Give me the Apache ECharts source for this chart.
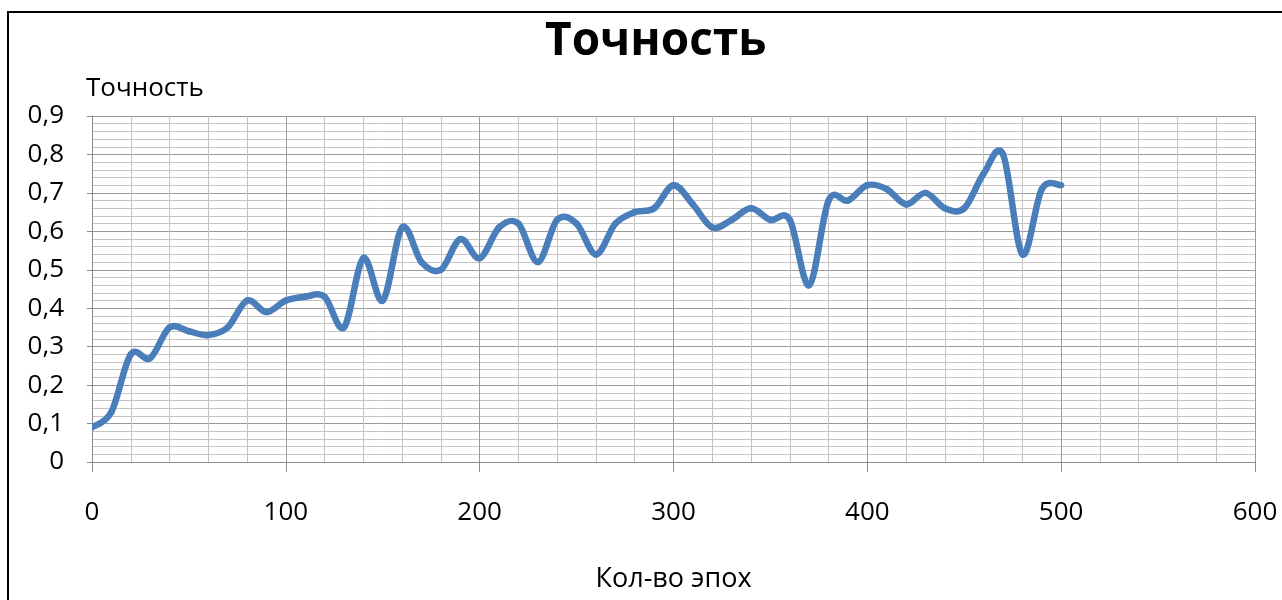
<!DOCTYPE html>
<html>
<head>
<meta charset="utf-8">
<script src="https://cdn.jsdelivr.net/npm/echarts@6/dist/echarts.min.js"></script>
<style>
  html, body { margin: 0; padding: 0; background: #fff; }
  #chart { width: 1282px; height: 600px; }
</style>
</head>
<body>
<div id="chart"></div>
<script>
// Accuracy per training epoch
const epochs = [0, 10, 20, 30, 40, 50, 60, 70, 80, 90,
                100, 110, 120, 130, 140, 150, 160, 170, 180, 190,
                200, 210, 220, 230, 240, 250, 260, 270, 280, 290,
                300, 310, 320, 330, 340, 350, 360, 370, 380, 390,
                400, 410, 420, 430, 440, 450, 460, 470, 480, 490, 500];
const accuracy = [0.09, 0.13, 0.28, 0.27, 0.35, 0.34, 0.33, 0.35, 0.42, 0.39,
                  0.42, 0.43, 0.43, 0.35, 0.53, 0.42, 0.61, 0.52, 0.50, 0.58,
                  0.53, 0.61, 0.62, 0.52, 0.63, 0.62, 0.54, 0.62, 0.65, 0.66,
                  0.72, 0.67, 0.61, 0.63, 0.66, 0.63, 0.63, 0.46, 0.68, 0.68,
                  0.72, 0.71, 0.67, 0.70, 0.66, 0.66, 0.75, 0.80, 0.54, 0.71, 0.72];

const titleText = 'Точность';
const yName = 'Точность';
const xName = 'Кол-во эпох';

const FONT = "'Open Sans', sans-serif";
const LINE_COLOR = '#4a7ebb';

const chart = echarts.init(document.getElementById('chart'), null, { renderer: 'canvas' });

const points = epochs.map((e, i) => [e, accuracy[i]]);

// Each item draws the smooth (Catmull-Rom style) segment from point i to point i+1
function renderSegment(params, api) {
  const i = params.dataIndex;
  if (i >= points.length - 1) return null;
  const p = k => api.coord(points[Math.max(0, Math.min(points.length - 1, k))]);
  const p0 = p(i - 1), p1 = p(i), p2 = p(i + 1), p3 = p(i + 2);
  const t = 1 / 6;
  return {
    type: 'bezierCurve',
    shape: {
      x1: p1[0], y1: p1[1],
      x2: p2[0], y2: p2[1],
      cpx1: p1[0] + (p2[0] - p0[0]) * t, cpy1: p1[1] + (p2[1] - p0[1]) * t,
      cpx2: p2[0] - (p3[0] - p1[0]) * t, cpy2: p2[1] - (p3[1] - p1[1]) * t
    },
    style: { stroke: LINE_COLOR, lineWidth: 6.5, fill: null, lineCap: 'round' }
  };
}

chart.setOption({
  animation: false,
  backgroundColor: '#ffffff',
  title: {
    text: titleText,
    left: 540,
    top: 14,
    textStyle: { fontFamily: FONT, fontSize: 46, fontWeight: 'bold', color: '#000' }
  },
  graphic: [{
    type: 'rect',
    shape: { x: 8, y: 12, width: 1300, height: 620 },
    style: { fill: 'none', stroke: '#000', lineWidth: 2 },
    silent: true
  }],
  grid: { left: 92, right: 27, top: 116, bottom: 138 },
  xAxis: {
    type: 'value',
    min: 0,
    max: 600,
    interval: 100,
    name: xName,
    nameLocation: 'middle',
    nameGap: 104,
    nameTextStyle: { fontFamily: FONT, fontSize: 27, color: '#000' },
    axisLine: { show: true, lineStyle: { color: '#8c8c8c', width: 1 } },
    axisTick: { show: true, length: 10, lineStyle: { color: '#8c8c8c' } },
    axisLabel: { fontFamily: FONT, fontSize: 26, color: '#000', margin: 38 },
    splitLine: { show: true, lineStyle: { color: '#9a9a9a', width: 1 } },
    minorTick: { show: false, splitNumber: 5 },
    minorSplitLine: { show: true, lineStyle: { color: '#c4c4c4', width: 1 } }
  },
  yAxis: {
    type: 'value',
    min: 0,
    max: 0.9,
    interval: 0.1,
    name: yName,
    nameLocation: 'end',
    nameGap: 14,
    nameTextStyle: { fontFamily: FONT, fontSize: 26, color: '#000', align: 'left', padding: [0, 0, 0, -6] },
    axisLine: { show: true, lineStyle: { color: '#8c8c8c', width: 1 } },
    axisTick: { show: true, length: 5, lineStyle: { color: '#8c8c8c' } },
    axisLabel: {
      fontFamily: FONT, fontSize: 26, color: '#000', margin: 28,
      formatter: v => (Math.round(v * 10) / 10).toString().replace('.', ',')
    },
    splitLine: { show: true, lineStyle: { color: '#9a9a9a', width: 1 } },
    minorTick: { show: false, splitNumber: 5 },
    minorSplitLine: { show: true, lineStyle: { color: '#c4c4c4', width: 1 } }
  },
  series: [{
    type: 'custom',
    renderItem: renderSegment,
    data: points,
    encode: { x: 0, y: 1 },
    clip: true
  }]
});
</script>
</body>
</html>
